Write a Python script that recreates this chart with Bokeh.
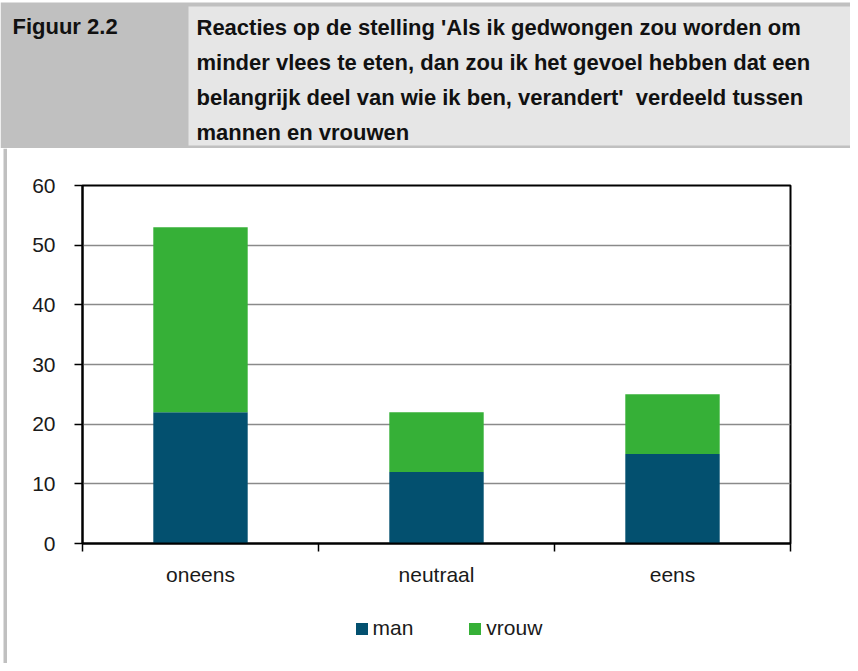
from bokeh.plotting import figure
from bokeh.models import Range1d, FixedTicker, Legend, LegendItem, ColumnDataSource
from bokeh.layouts import column, row
from bokeh.embed import file_html
from bokeh.resources import INLINE
from bokeh.core.properties import value

# ---------------- data ----------------
figure_label = "Figuur 2.2"
title_lines = [
    "Reacties op de stelling 'Als ik gedwongen zou worden om",
    "minder vlees te eten, dan zou ik het gevoel hebben dat een",
    "belangrijk deel van wie ik ben, verandert'\u00a0 verdeeld tussen",
    "mannen en vrouwen",
]
categories = ["oneens", "neutraal", "eens"]
series_names = ["man", "vrouw"]
man = [22, 12, 15]
vrouw = [31, 10, 10]
y_ticks = [0, 10, 20, 30, 40, 50, 60]

# ---------------- styles ----------------
FONT = "Liberation Sans"
DARK_GREY = "#c0c0c0"
LIGHT_GREY = "#e6e6e6"
colors = ["#03506f", "#36b037"]
TEXT_COLOR = "#1a1a1a"

W = 850
H_HEAD = 148
H_CHART = 452
H_LEG = 63
BAR_W = 7

# ---------------- header ----------------
head = figure(width=W, height=H_HEAD, x_range=Range1d(0, W), y_range=Range1d(0, H_HEAD),
              x_axis_location=None, y_axis_location=None, min_border=0,
              output_backend="svg", toolbar_location=None, outline_line_color=None,
              background_fill_color="white", border_fill_color="white")
head.grid.visible = False
head.quad(left=[0], right=[W], bottom=[0], top=[146], fill_color=DARK_GREY, line_color=None)
head.quad(left=[188], right=[W], bottom=[3], top=[142], fill_color=LIGHT_GREY, line_color=None)
head.text(x=[12], y=[122], text=[figure_label], text_font=value(FONT), text_font_style="bold",
          text_font_size="22px", text_color="#111111", text_baseline="alphabetic")
head.text(x=[196] * 4, y=[121, 86, 51, 16], text=title_lines, text_font=value(FONT),
          text_font_style="bold", text_font_size="22px", text_color="#111111",
          text_baseline="alphabetic")

# ---------------- left grey bar ----------------
bar = figure(width=BAR_W, height=H_CHART + H_LEG, x_range=Range1d(0, BAR_W), y_range=Range1d(0, 1),
             x_axis_location=None, y_axis_location=None, min_border=0,
             output_backend="svg", toolbar_location=None, outline_line_color=None,
             background_fill_color="white", border_fill_color="white")
bar.grid.visible = False
bar.quad(left=[3], right=[BAR_W], bottom=[0], top=[1], fill_color=DARK_GREY, line_color=None)

# ---------------- chart ----------------
p = figure(width=W - BAR_W, height=H_CHART, x_range=Range1d(0, len(categories)),
           y_range=Range1d(y_ticks[0], y_ticks[-1]),
           min_border_left=75, min_border_right=60, min_border_top=37, min_border_bottom=57,
           output_backend="svg", toolbar_location=None,
           outline_line_color="black", outline_line_width=2)

xpos = [i + 0.5 for i in range(len(categories))]
src = ColumnDataSource(dict(x=xpos, man=man, vrouw=vrouw))
rs = p.vbar_stack(series_names, x="x", width=0.4, fill_color=colors, line_color=None, source=src)

# x axis: labels at centres, tick marks at category boundaries
p.xaxis.ticker = FixedTicker(ticks=xpos, minor_ticks=list(range(len(categories) + 1)))
p.xaxis.major_label_overrides = {x: c for x, c in zip(xpos, categories)}
p.xaxis.major_tick_out = 0
p.xaxis.major_tick_in = 0
p.xaxis.minor_tick_out = 8
p.xaxis.minor_tick_in = 0
p.xaxis.minor_tick_line_color = "black"
p.xaxis.minor_tick_line_width = 1.5
p.xaxis.major_label_standoff = 11

p.yaxis.ticker = FixedTicker(ticks=y_ticks)
p.yaxis.major_tick_out = 8
p.yaxis.major_tick_in = 0
p.yaxis.major_tick_line_width = 1.5
p.yaxis.major_tick_line_color = "black"
p.yaxis.minor_tick_line_color = None
p.yaxis.major_label_standoff = 19

for ax in (p.xaxis[0], p.yaxis[0]):
    ax.axis_line_color = "black"
    ax.axis_line_width = 2
    ax.major_label_text_font = FONT
    ax.major_label_text_font_size = "21px"
    ax.major_label_text_color = TEXT_COLOR

p.xgrid.visible = False
p.ygrid.grid_line_color = "#8a8a8a"
p.ygrid.grid_line_width = 1.5

# ---------------- legend strip ----------------
lf = figure(width=W - BAR_W, height=H_LEG, x_range=Range1d(0, 1), y_range=Range1d(0, 1),
            x_axis_location=None, y_axis_location=None, min_border=0,
            output_backend="svg", toolbar_location=None, outline_line_color=None)
lf.grid.visible = False
# legend keys: zero-height bars placed outside the visible range
keys = [lf.vbar(x=[-5], bottom=[0], top=[0], width=0.4, fill_color=c, line_color=None)
        for c in colors]
legend = Legend(items=[LegendItem(label=n, renderers=[r]) for n, r in zip(series_names, keys)],
                location=(271.5, 23), orientation="horizontal",
                glyph_width=15, glyph_height=15, label_standoff=4, spacing=54,
                padding=0, margin=0, border_line_color=None, background_fill_alpha=0,
                label_text_font=FONT, label_text_font_size="21px", label_text_color=TEXT_COLOR,
                label_height=24)
lf.add_layout(legend)

layout = column(head, row(bar, column(p, lf)))
open("out.html", "w").write(file_html(layout, INLINE))
